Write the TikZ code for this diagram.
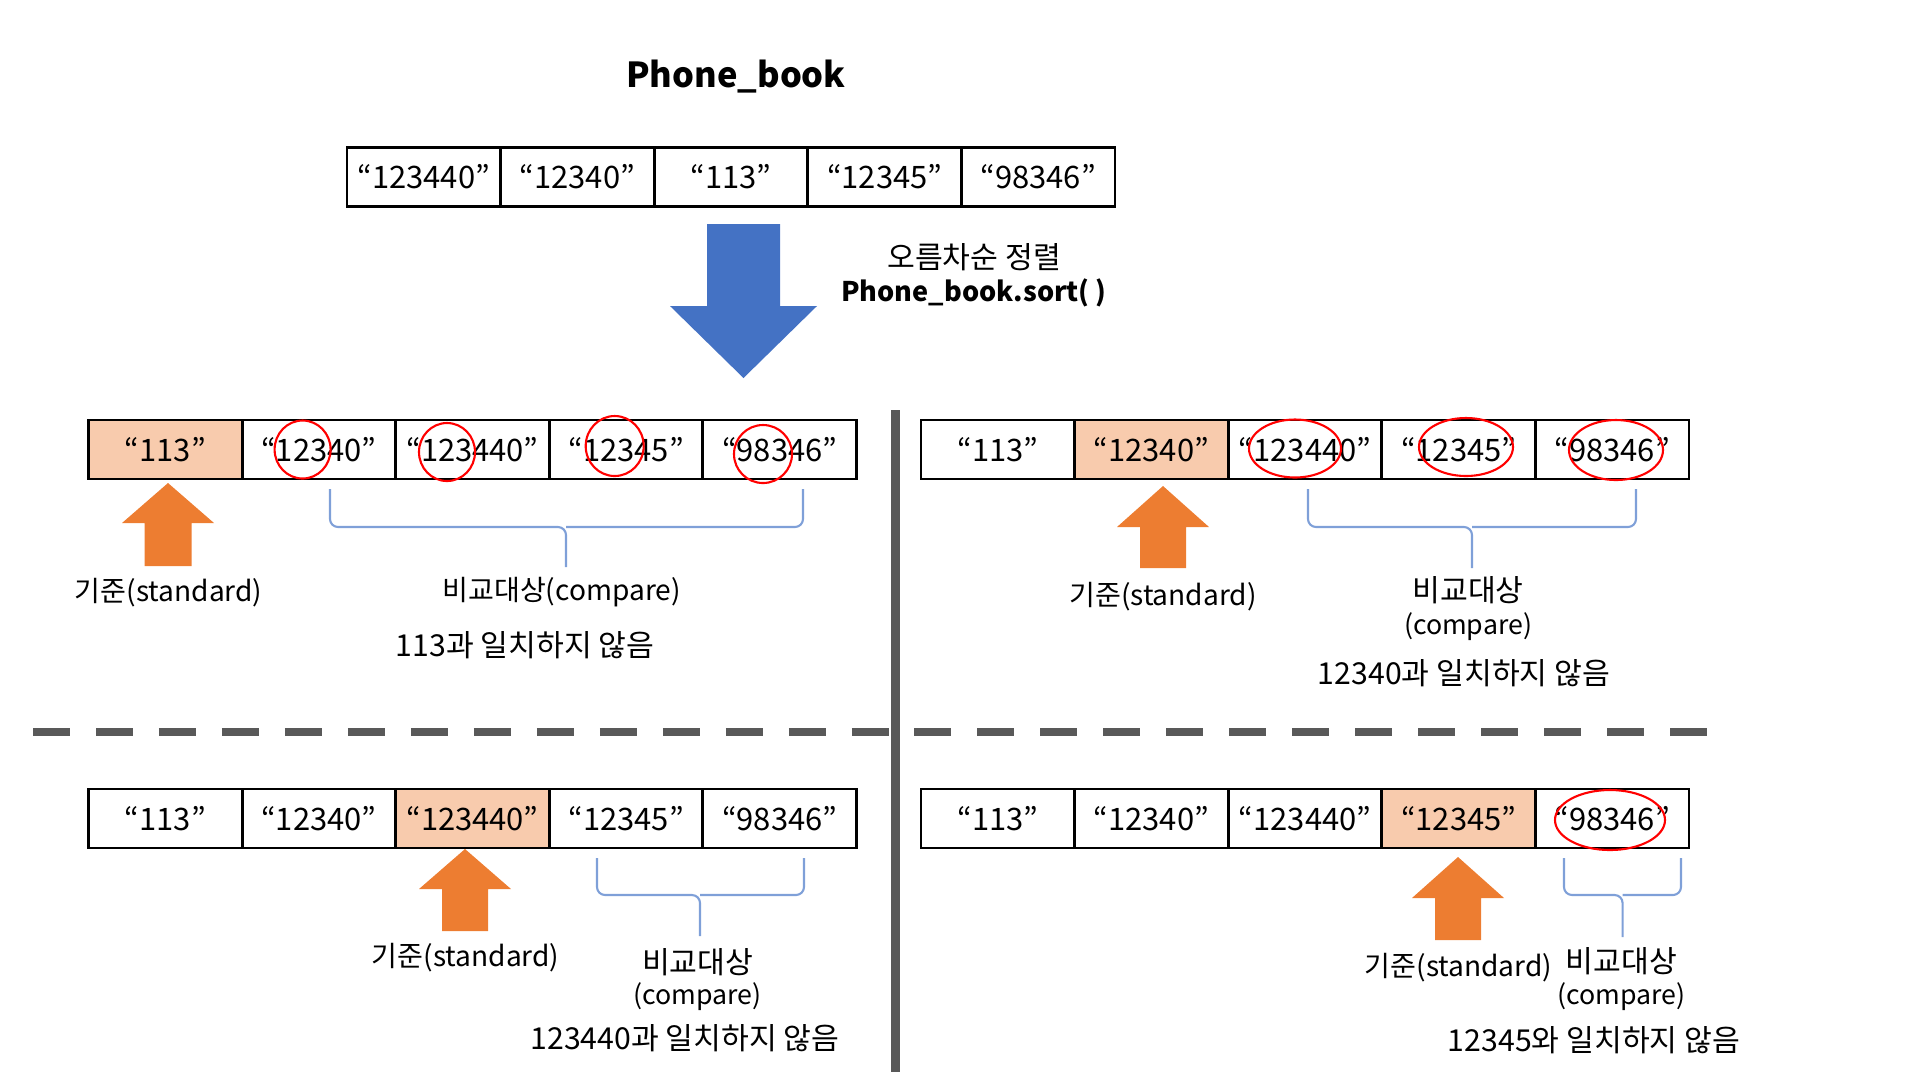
\documentclass[tikz,border=0pt]{standalone}
\usepackage{fontspec}
\setmainfont{Noto Sans CJK KR}
\definecolor{peach}{HTML}{F8CBAD}
\definecolor{arroworange}{HTML}{ED7D31}
\definecolor{arrowblue}{HTML}{4472C4}
\definecolor{bracecol}{HTML}{7FA0D8}
\definecolor{sepgray}{HTML}{595959}

\begin{document}
\begin{tikzpicture}[x=0.1mm,y=-0.1mm,
  cell/.style={draw,line width=0.8pt,minimum width=15.36mm,minimum height=5.9mm,
    inner sep=0pt,outer sep=0pt,font=\fontsize{8.8}{11}\selectfont},
  pick/.style={cell,fill=peach},
  ring/.style={draw=red,line width=0.6pt},
  uparrow/.style={fill=arroworange},
  bracket/.style={draw=bracecol,line width=0.6pt,rounded corners=0.8mm},
  lbl/.style={font=\fontsize{8}{10}\selectfont},
  klbl/.style={font=\fontsize{8.6}{10}\selectfont},
  elbl/.style={font=\fontsize{7.6}{10}\selectfont},
  sep/.style={draw=sepgray,line width=2.5pt}]
\useasboundingbox (0,0) rectangle (1920,1080);

\node[font=\bfseries\fontsize{9.8}{12}\selectfont,anchor=base] (title) at (736,87) {Phone\_book};

\node[cell] (top1) at (423.8,177) {“123440”};
\node[cell] (top2) at (577.4,177) {“12340”};
\node[cell] (top3) at (731,177) {“113”};
\node[cell] (top4) at (884.6,177) {“12345”};
\node[cell] (top5) at (1038.2,177) {“98346”};

\fill[arrowblue] (707,224) -- (780,224) -- (780,306) -- (817,306) -- (743.5,378) -- (670,306) -- (707,306) -- cycle;
\node[klbl,anchor=base] (sortko) at (974,268) {오름차순 정렬};
\node[font=\bfseries\fontsize{7.7}{10}\selectfont,anchor=base] (sortfn) at (974,301) {Phone\_book.sort( )};

\draw[sep] (895.5,410) -- (895.5,1072);
\draw[sep,dash pattern=on 3.7mm off 2.6mm] (33,732) -- (889,732);
\draw[sep,dash pattern=on 3.7mm off 2.6mm] (914,732) -- (1714,732);

\node[pick] (tl1) at (165.3,449.5) {“113”};
\node[cell] (tl2) at (318.9,449.5) {“12340”};
\node[cell] (tl3) at (472.5,449.5) {“123440”};
\node[cell] (tl4) at (626.1,449.5) {“12345”};
\node[cell] (tl5) at (779.7,449.5) {“98346”};
\draw[ring] (302.6,449.5) ellipse (28 and 29);
\draw[ring] (447,452) ellipse (28 and 29);
\draw[ring] (614.7,446) ellipse (29 and 30);
\draw[ring] (763,454) ellipse (29 and 29);
\fill[uparrow] (168,483) -- ++(46,40) -- ++(-22.5,0) -- ++(0,43) -- ++(-47,0) -- ++(0,-43) -- ++(-22.5,0) -- cycle;
\draw[bracket] (330,489) -- (330,527) -- (566,527) -- (566,567);
\draw[bracket] (803,489) -- (803,527) -- (566,527);
\node[lbl] (tlstd) at (168.6,593) {기준(standard)};
\node[lbl] (tlcmp) at (561.6,592) {비교대상(compare)};
\node[klbl] (tlres) at (525,645) {113과 일치하지 않음};

\node[cell] (tr1) at (997.8,449.5) {“113”};
\node[pick] (tr2) at (1151.4,449.5) {“12340”};
\node[cell] (tr3) at (1305,449.5) {“123440”};
\node[cell] (tr4) at (1458.6,449.5) {“12345”};
\node[cell] (tr5) at (1612.2,449.5) {“98346”};
\draw[ring] (1295,448.5) ellipse (46 and 29);
\draw[ring] (1466,447) ellipse (47 and 29);
\draw[ring] (1616,450) ellipse (47 and 30);
\fill[uparrow] (1163,486) -- ++(46,41) -- ++(-23,0) -- ++(0,41) -- ++(-46,0) -- ++(0,-41) -- ++(-23,0) -- cycle;
\draw[bracket] (1308,489) -- (1308,527) -- (1472,527) -- (1472,568);
\draw[bracket] (1636,489) -- (1636,527) -- (1472,527);
\node[lbl] (trstd) at (1163,597) {기준(standard)};
\node[klbl] (trcmp) at (1468,590) {비교대상};
\node[elbl] (trcmpen) at (1468,627) {(compare)};
\node[klbl] (trres) at (1464,673) {12340과 일치하지 않음};

\node[cell] (bl1) at (165.3,818.5) {“113”};
\node[cell] (bl2) at (318.9,818.5) {“12340”};
\node[pick] (bl3) at (472.5,818.5) {“123440”};
\node[cell] (bl4) at (626.1,818.5) {“12345”};
\node[cell] (bl5) at (779.7,818.5) {“98346”};
\fill[uparrow] (465,849) -- ++(46,40) -- ++(-23,0) -- ++(0,42) -- ++(-46,0) -- ++(0,-42) -- ++(-23,0) -- cycle;
\draw[bracket] (597,858) -- (597,895) -- (700,895) -- (700,936);
\draw[bracket] (804,858) -- (804,895) -- (700,895);
\node[lbl] (blstd) at (465.6,958) {기준(standard)};
\node[klbl] (blcmp) at (697.7,962) {비교대상};
\node[elbl] (blcmpen) at (697.7,997) {(compare)};
\node[klbl] (blres) at (685,1038) {123440과 일치하지 않음};

\node[cell] (br1) at (997.8,818.5) {“113”};
\node[cell] (br2) at (1151.4,818.5) {“12340”};
\node[cell] (br3) at (1305,818.5) {“123440”};
\node[pick] (br4) at (1458.6,818.5) {“12345”};
\node[cell] (br5) at (1612.2,818.5) {“98346”};
\draw[ring] (1610,820) ellipse (55 and 30);
\fill[uparrow] (1458,857) -- ++(46,41) -- ++(-23,0) -- ++(0,42) -- ++(-46,0) -- ++(0,-42) -- ++(-23,0) -- cycle;
\draw[bracket] (1564,858) -- (1564,895) -- (1622.6,895) -- (1622.6,937);
\draw[bracket] (1681,858) -- (1681,895) -- (1622.6,895);
\node[lbl] (brstd) at (1458.5,968) {기준(standard)};
\node[klbl] (brcmp) at (1621.5,961) {비교대상};
\node[elbl] (brcmpen) at (1621.5,997) {(compare)};
\node[klbl] (brres) at (1594,1040) {12345와 일치하지 않음};

\end{tikzpicture}
\end{document}
